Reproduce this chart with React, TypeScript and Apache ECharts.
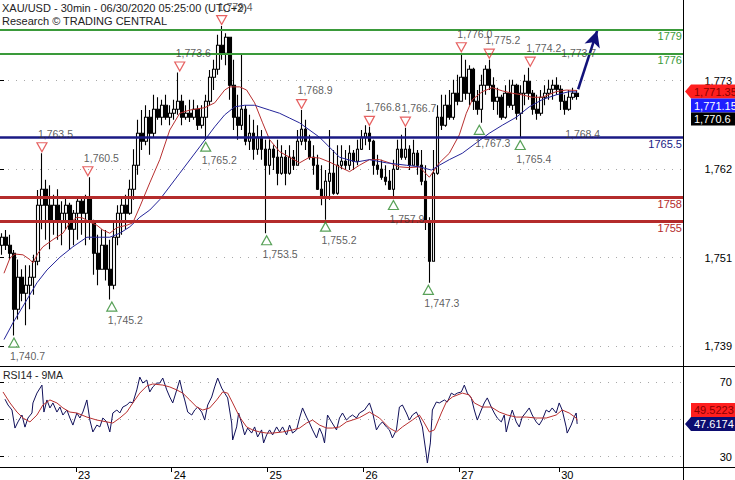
import React, { useEffect, useRef } from "react";
import * as echarts from "echarts";

// ---------------- data (hourly OHLC) ----------------
const opens = [
  1752, 1753, 1752, 1751, 1744, 1748, 1746, 1747, 1748, 1750,
  1757, 1759, 1757, 1755, 1757, 1755, 1756, 1757, 1754, 1756,
  1757.5, 1756, 1758, 1755, 1751, 1749, 1752, 1749, 1747, 1753,
  1756, 1757, 1756, 1759, 1762, 1766, 1765, 1768, 1766, 1769,
  1768, 1769.5, 1768, 1768.5, 1769, 1770, 1768, 1768.5, 1768, 1769,
  1767, 1768, 1770, 1773, 1774, 1777, 1776, 1778, 1772, 1768,
  1767, 1769, 1765, 1766, 1764, 1765.5, 1764, 1762, 1764, 1763,
  1761, 1763, 1761, 1763, 1762, 1765, 1766.5, 1765, 1763, 1762,
  1759, 1758, 1760, 1761, 1758.5, 1762, 1762.5, 1762, 1763.5, 1762.5,
  1764, 1765.5, 1766, 1765, 1762, 1761.5, 1760.5, 1760, 1759, 1761.5,
  1764, 1763, 1764, 1762, 1763.5, 1762, 1760, 1755, 1750, 1761,
  1768, 1767, 1769.5, 1768, 1771, 1770, 1773, 1771, 1774, 1770,
  1769, 1772, 1774, 1772, 1770, 1770.5, 1768, 1771, 1769.5, 1772,
  1768.5, 1771, 1772.5, 1771, 1769, 1768.5, 1770.5, 1771, 1771.5, 1772,
  1771.5, 1770, 1769, 1770.5, 1771,
];
const closes = [
  1753, 1752, 1751, 1744, 1748, 1746, 1747, 1748, 1750, 1757,
  1759, 1757, 1755, 1757, 1755, 1756, 1757, 1754, 1756, 1757.5,
  1756, 1758, 1755, 1751, 1749, 1752, 1749, 1747, 1753, 1756,
  1757, 1756, 1759, 1762, 1766, 1765, 1768, 1766, 1769, 1768,
  1769.5, 1768, 1768.5, 1769, 1770, 1768, 1768.5, 1768, 1769, 1767,
  1768, 1770, 1773, 1774, 1777, 1776, 1778, 1772, 1768, 1767,
  1769, 1765, 1766, 1764, 1765.5, 1764, 1762, 1764, 1763, 1761,
  1763, 1761, 1763, 1762, 1765, 1766.5, 1765, 1763, 1762, 1759,
  1758, 1760, 1761, 1758.5, 1762, 1762.5, 1762, 1763.5, 1762.5, 1764,
  1765.5, 1766, 1765, 1762, 1761.5, 1760.5, 1760, 1759, 1761.5, 1764,
  1763, 1764, 1762, 1763.5, 1762, 1760, 1755, 1750, 1761, 1768,
  1767, 1769.5, 1768, 1771, 1770, 1773, 1771, 1774, 1770, 1769,
  1772, 1774, 1772, 1770, 1770.5, 1768, 1771, 1769.5, 1772, 1768.5,
  1771, 1772.5, 1771, 1769, 1768.5, 1770.5, 1771, 1771.5, 1772, 1771.5,
  1770, 1769, 1770.5, 1771, 1770.6,
];
const lows = [
  1750.8, 1751.4, 1750.2, 1740.7, 1742.7, 1745, 1742, 1744, 1745.8, 1749.5,
  1754, 1752.7, 1751.5, 1753.3, 1752.7, 1752, 1754, 1751.4, 1752, 1752.7,
  1753.3, 1752, 1752.7, 1748.3, 1747, 1749, 1747.6, 1745.2, 1746.5, 1752,
  1753.3, 1754, 1755.8, 1757.7, 1760.8, 1763.9, 1764.5, 1763.3, 1765.5, 1767.7,
  1767, 1767.7, 1767, 1767.7, 1768.3, 1767, 1767.7, 1767.4, 1767.7, 1766.4,
  1766.6, 1765.2, 1769.5, 1771.4, 1773.3, 1775.2, 1774.5, 1770.2, 1766.4, 1765.2,
  1766.4, 1764.5, 1763.9, 1762.7, 1763.3, 1762.7, 1753.5, 1760.8, 1761.4, 1759.5,
  1760.8, 1759.5, 1760.8, 1761.4, 1762, 1764.5, 1763.9, 1762.7, 1760.8, 1758.9,
  1757, 1755.2, 1757.7, 1758.3, 1758.3, 1761.5, 1761.4, 1761.4, 1761.4, 1762,
  1763.9, 1764.5, 1763.9, 1760.8, 1760.8, 1760.2, 1759.5, 1758.9, 1757.9, 1761.4,
  1762.7, 1762.7, 1761.4, 1762, 1760.8, 1759.5, 1753.9, 1747.3, 1750, 1760.8,
  1766.4, 1766.8, 1767.7, 1767.7, 1769.5, 1770, 1770.2, 1769.5, 1768.9, 1768.3,
  1767.3, 1770.8, 1771.4, 1768.9, 1768.3, 1767.7, 1767.8, 1769.2, 1768.9, 1767.7,
  1765.4, 1769.5, 1770.2, 1768.3, 1767.7, 1768.2, 1769.5, 1770.2, 1770.2, 1770.8,
  1768.9, 1768.3, 1768.8, 1770.2, 1770.2,
];
const highs = [
  1753.5, 1753.9, 1753.3, 1751.4, 1750.2, 1749, 1749.5, 1749.5, 1750.8, 1758.9,
  1763.5, 1760.2, 1759.5, 1758.3, 1759, 1757.5, 1758, 1757.3, 1756.4, 1758,
  1757.8, 1758.3, 1760.5, 1755.2, 1753.3, 1754, 1753.9, 1752.7, 1755, 1757,
  1758, 1758.3, 1760.2, 1764, 1767.7, 1768.9, 1769.5, 1768.9, 1770.8, 1770.5,
  1770.2, 1770.8, 1769.5, 1770.2, 1773.6, 1770.8, 1769.5, 1770.2, 1770.2, 1769.5,
  1769.5, 1770.8, 1773.9, 1775.2, 1778.3, 1779.4, 1778.5, 1778, 1775.2, 1770.8,
  1775.8, 1769.5, 1768.3, 1767.7, 1767, 1766.4, 1765.2, 1765.2, 1764.5, 1765.2,
  1764.5, 1763.9, 1764.5, 1763.9, 1766.4, 1768.9, 1767.7, 1765.8, 1764.5, 1763.3,
  1762, 1761.4, 1766.4, 1763.9, 1764.5, 1764.5, 1763.9, 1764.5, 1763.9, 1765.2,
  1766.4, 1767, 1766.8, 1765.2, 1763.3, 1762.7, 1762, 1761.4, 1762.7, 1765.2,
  1765.8, 1766.7, 1764.5, 1765.2, 1763.9, 1763.9, 1762, 1755.5, 1763.9, 1769.5,
  1770.8, 1770.8, 1771.4, 1772.7, 1773.3, 1776, 1775.2, 1774.5, 1774.2, 1771.4,
  1773.3, 1774.5, 1775.2, 1773, 1771.7, 1770.8, 1772, 1772.7, 1772.7, 1772.2,
  1772, 1773.3, 1774.2, 1771.4, 1770.8, 1771.4, 1772, 1772.7, 1772.7, 1773,
  1772, 1770.8, 1771.4, 1771.7, 1771.4,
];

// moving averages: [time in 30-min periods, price]
const redMA: [number, number][] = [
  [1, 1748.5], [4, 1750.4], [6.5, 1750.9], [10.5, 1750.8], [14, 1750.2], [15.5, 1749.8], [18, 1751],
  [20.5, 1751.8], [25.5, 1752.7], [30.5, 1753.5], [34, 1754.8], [37.5, 1755.5], [40.5, 1755.4],
  [44, 1754.9], [47.5, 1754.5], [50.5, 1753.9], [54, 1753.5], [57.5, 1754.2], [62.5, 1754.5],
  [65.5, 1754.8], [69, 1756.8], [74, 1759.8], [79, 1762.7], [84, 1766.4], [89, 1768.5], [94, 1768.9],
  [101.5, 1769.2], [106.5, 1769.8], [111.5, 1771.4], [114, 1771.8], [119, 1771.8], [122.5, 1771.4],
  [126.5, 1769.8], [130.5, 1767.3], [134, 1765.2], [139, 1763.7], [144, 1763], [149, 1762.3],
  [154, 1763], [159, 1762.9], [164, 1762.4], [169, 1761.8], [174, 1761.2], [179, 1762], [184, 1762.7],
  [189, 1762.7], [194, 1762.3], [199, 1761.8], [204, 1761.7], [209, 1761.8], [214, 1760.5],
  [219, 1762.3], [224, 1763.5], [229, 1765.8], [232.5, 1768.5], [235.5, 1770.2], [240.5, 1771.2],
  [245.5, 1771.7], [250.5, 1771.3], [255.5, 1771], [260.5, 1770.8], [265.5, 1770.5], [270.5, 1770.5],
  [277.5, 1771.2], [282.5, 1771.4], [288, 1771.35],
];
const blueMA: [number, number][] = [
  [1, 1740.2], [5.5, 1742.3], [12.5, 1745.2], [17.5, 1747.3], [22.5, 1748.9], [29, 1750.5],
  [35.5, 1751.8], [42.5, 1753], [49, 1753], [54, 1753], [59, 1753.5], [64, 1754.3], [69, 1755.5],
  [74, 1756.4], [79, 1757.7], [89, 1761], [99, 1764.3], [106.5, 1766.8], [111.5, 1768.3],
  [116.5, 1769.3], [121.5, 1769.5], [126.5, 1769.5], [134, 1768.9], [139, 1768.5], [144, 1767.9],
  [149, 1767.3], [159, 1765.5], [169, 1763], [177.5, 1762.4], [184, 1762.7], [192.5, 1762.3],
  [202.5, 1762], [209, 1761.8], [215, 1761.4], [219, 1762], [224, 1762.7], [230.5, 1763.5],
  [237.5, 1764.8], [244, 1766], [250.5, 1767], [257.5, 1768], [264, 1769.3], [270.5, 1770.2],
  [277.5, 1770.8], [284, 1771.2], [288, 1771.15],
];

// RSI(14) and its 9-period MA: [time in 30-min periods, value]
const rsi: [number, number][] = [
  [1.5, 60.9], [3, 57.8], [5, 55.1], [6.5, 45.4], [8, 48.7], [10, 52.4], [11.5, 45.9], [13, 50.8],
  [15, 53.5], [15.5, 58.9], [17.5, 64.2], [20, 68.5], [21, 54], [22.5, 60.5], [24, 56.2], [25.5, 58.9],
  [27.5, 54], [29, 56.7], [30.5, 52.4], [32.5, 55.1], [34, 50.8], [35.5, 47], [37.5, 53.5], [39, 50.8],
  [40.5, 54], [42.5, 60.5], [44, 49.7], [45.5, 43.3], [47.5, 47], [49, 46], [50.5, 50.8], [52.5, 48.7],
  [54, 43.3], [55.5, 53.5], [57.5, 55.1], [59, 53.5], [60.5, 56.7], [62.5, 57.8], [64, 59.4],
  [65.5, 58.9], [67.5, 65.9], [69, 72.8], [70.5, 69.6], [72.5, 71.2], [74, 64.8], [75.5, 67.5],
  [77.5, 69.6], [79, 69.6], [80.5, 72.3], [82.5, 65.9], [84, 62.1], [85.5, 58.9], [87.5, 65.9],
  [89, 71.2], [90.5, 64.2], [91.5, 60.5], [93, 54], [95, 52.4], [96.5, 55.1], [98, 56.7], [100, 54],
  [101.5, 49.7], [103, 57.8], [105, 62.1], [106.5, 67.5], [108, 72.3], [110, 66.9], [111.5, 64.2],
  [113, 61.6], [115, 48.1], [115.5, 39], [117.5, 46], [118.5, 53.5], [120, 48.1], [121.5, 41.7],
  [123, 45.4], [125, 42.7], [126.5, 46], [128, 40.6], [130, 44.4], [131, 37.4], [132.5, 41.7],
  [134, 44.4], [135.5, 41.7], [137.5, 46], [139, 43.3], [140.5, 46], [142.5, 41.7], [144, 47],
  [145.5, 42.7], [147.5, 44.4], [149, 50.8], [150.5, 56.2], [152.5, 51.3], [154, 48.1], [155.5, 44.4],
  [157.5, 40.1], [159, 45.4], [160.5, 41.7], [161.5, 37.4], [163, 52.4], [165, 48.7], [167.5, 44.4],
  [169, 50.8], [170.5, 53.5], [172.5, 49.7], [174, 51.3], [175.5, 52.4], [177.5, 50.8], [179, 53.5],
  [181.5, 55.1], [184, 58.9], [185.5, 54], [187.5, 44.4], [189, 47], [190.5, 48.7], [192.5, 46],
  [194, 44.4], [195.5, 40.1], [197.5, 44.4], [199, 56.7], [200.5, 57.8], [202.5, 53.5], [204, 49.7],
  [205.5, 52.4], [207.5, 54], [209, 50.8], [210.5, 46], [212.5, 30.9], [213, 26.6], [214.5, 37.4],
  [215.5, 55.1], [217.5, 59.4], [219, 58.9], [221.5, 60.5], [223, 59.4], [225, 64.2], [226.5, 63.2],
  [228, 64.2], [230, 64.8], [231.5, 68.5], [233, 64.2], [235, 61.6], [236.5, 55.1], [238, 49.7],
  [240, 55.1], [241.5, 58.9], [243, 61.6], [245, 56.7], [246.5, 53.5], [248, 50.8], [250, 48.7],
  [251.5, 52.4], [252.5, 43.3], [254, 49.7], [255.5, 55.1], [257.5, 48.7], [259, 46], [260.5, 51.3],
  [262.5, 54], [264, 56.2], [265.5, 52.4], [267.5, 48.7], [269, 47], [270.5, 49.7], [272.5, 55.1],
  [274, 54], [275.5, 56.2], [277.5, 53.5], [279, 58.9], [280.5, 55.1], [282.5, 46], [283, 42.7],
  [285, 47], [286.5, 51.3], [287.5, 53.5], [288, 47.6174],
];
const rsiMA: [number, number][] = [
  [0.5, 64.8], [4, 58.9], [7.5, 54], [10.5, 50.8], [14, 48.7], [17.5, 52.4], [20.5, 57.8], [24, 60.5],
  [27.5, 58.9], [30.5, 56.2], [34, 54], [37.5, 53.5], [42.5, 51.3], [47.5, 49.7], [52.5, 48.7],
  [55.5, 48.1], [59, 50.8], [62.5, 54], [65.5, 58.9], [69, 64.2], [72.5, 68], [75.5, 69.1],
  [80.5, 68.5], [84, 67.5], [87.5, 65.9], [90.5, 64.2], [94, 60.5], [97.5, 56.7], [100.5, 55.1],
  [104, 56.2], [107.5, 60.5], [110.5, 64.8], [113, 64.2], [115.5, 58.9], [119, 51.3], [122.5, 46],
  [125.5, 44.4], [129, 43.3], [132.5, 42.7], [135.5, 42.7], [140.5, 43.3], [145.5, 44.4], [149, 45.4],
  [152.5, 48.1], [155.5, 49.7], [159, 47], [162.5, 45.4], [165.5, 45.4], [169, 46], [172.5, 48.7],
  [175.5, 49.7], [179, 51], [184, 54], [189, 50.8], [194, 45.4], [197.5, 43.3], [200.5, 46],
  [205.5, 49.7], [209, 52.4], [211.5, 48.1], [214, 43.3], [216.5, 44.4], [220, 53.5], [222.5, 59.4],
  [225.5, 62.1], [230.5, 64.2], [234, 63.2], [236.5, 58.9], [240.5, 56.7], [245, 56.7], [249, 54],
  [253, 52.4], [257.5, 51.3], [262.5, 51.3], [267.5, 50.8], [272.5, 50.8], [277.5, 52.4],
  [280.5, 55.1], [284, 53.5], [287.5, 50.8], [288, 49.5223],
];

// swing markers
const highMarkT = [20, 43, 89, 110, 150, 184, 202, 230, 244, 264.5];
const highMarkP = [1763.5, 1760.5, 1773.6, 1779.4, 1768.9, 1766.8, 1766.7, 1776.0, 1775.2, 1774.2];
const lowMarkT = [6, 55, 102, 132.5, 162, 196, 213.5, 239, 259.5];
const lowMarkP = [1740.7, 1745.2, 1765.2, 1753.5, 1755.2, 1757.9, 1747.3, 1767.3, 1765.4];
const plainHighLabels: [number, number][] = [[282, 1773.7]];
const plainLowLabels: [number, number][] = [[284, 1768.4]];

// key levels
const resistanceLevels = [1779, 1776];
const pivotLevels = [1765.5];
const supportLevels = [1758, 1755];

// projection arrow
const arrowFrom: [number, number] = [288.5, 1771.5];
const arrowTo: [number, number] = [298, 1778.8];

// axes
const priceTickLabels = ["1,739", "1,751", "1,762", "1,773"];
const rsiTickLabels = ["30", "", "70"];
const dayLabels = ["23", "24", "25", "26", "27", "30"];
const dayIndex = [19, 43, 67, 91, 115, 140];

// ---------------- layout ----------------
const W = 735;
const AXIS_X = 683;
const RIGHT = W - AXIS_X;
const SLOTS = 171;
const T_MIN = -1;
const T_MAX = SLOTS * 2 - 1;
const PRICE_MIN = 1736.9;
const PRICE_MAX = 1782.66;
const RSI_MIN = 24.46;
const RSI_MAX = 78.76;

const FONT = '"Liberation Sans", Arial, sans-serif';
const GREEN = "#3a9a3a";
const NAVY = "#1a1a84";
const DARKRED = "#b42b2b";

const fmt1 = (v: number) =>
  v.toLocaleString("en-US", { minimumFractionDigits: 1, maximumFractionDigits: 1 });
const fmtP = (v: number) => v.toLocaleString("en-US", { maximumFractionDigits: 2 });

export default function App() {
  const ref = useRef<HTMLDivElement>(null);

  useEffect(() => {
    const el = ref.current;
    if (!el) return;
    const chart = echarts.init(el, undefined, { renderer: "svg" });

    const cats = Array.from({ length: SLOTS }, (_, i) => {
      const k = dayIndex.indexOf(i);
      return k >= 0 ? dayLabels[k] : "";
    });
    const candles = opens.map((o, i) => [o, closes[i], lows[i], highs[i]]);

    const level = (v: number, color: string, width: number) => ({
      yAxis: v,
      lineStyle: { color, width, type: "solid" },
      label: {
        show: true,
        position: "insideEndBottom",
        formatter: String(v),
        color,
        fontSize: 11,
        fontFamily: FONT,
        distance: 1,
      },
    });

    const markLabel = {
      show: true,
      fontSize: 10.5,
      fontFamily: FONT,
      color: "#333",
      align: "left",
      offset: [-4, 0],
      distance: 3,
    };

    const dotted = { show: true, lineStyle: { color: "#a8a8a8", type: [1, 7], width: 1 } };

    const option: any = {
      animation: false,
      backgroundColor: "#fff",
      textStyle: { fontFamily: FONT },
      grid: [
        { left: 0, right: RIGHT, top: 0, height: 366 },
        { left: 0, right: RIGHT, top: 366, height: 101 },
        { left: 0, right: RIGHT, top: 80.7, height: 265.3 },
        { left: 0, right: RIGHT, top: 382.3, height: 74.4 },
      ],
      xAxis: [
        { type: "category", gridIndex: 0, data: cats, show: false, boundaryGap: true },
        { type: "value", gridIndex: 0, min: T_MIN, max: T_MAX, show: false },
        {
          type: "category",
          gridIndex: 1,
          data: cats,
          boundaryGap: true,
          axisLine: { show: true, lineStyle: { color: "#000", width: 1 } },
          axisTick: {
            show: true,
            length: 5,
            interval: (i: number) => dayIndex.includes(i),
            lineStyle: { color: "#000" },
          },
          axisLabel: {
            interval: (i: number) => dayIndex.includes(i),
            align: "left",
            margin: 2,
            fontSize: 11,
            color: "#000",
            fontFamily: FONT,
          },
          splitLine: { show: false },
        },
        { type: "value", gridIndex: 1, min: T_MIN, max: T_MAX, show: false },
        { type: "value", gridIndex: 2, show: false },
        { type: "value", gridIndex: 3, show: false },
      ],
      yAxis: [
        { type: "value", gridIndex: 0, min: PRICE_MIN, max: PRICE_MAX, show: false },
        { type: "value", gridIndex: 1, min: RSI_MIN, max: RSI_MAX, show: false },
        {
          type: "value",
          gridIndex: 2,
          position: "right",
          min: 0,
          max: priceTickLabels.length - 1,
          interval: 1,
          axisLine: { show: false },
          axisTick: { show: true, length: 4, lineStyle: { color: "#000" } },
          axisLabel: {
            formatter: (v: number) => priceTickLabels[Math.round(v)] ?? "",
            align: "right",
            margin: 49,
            fontSize: 11,
            color: "#000",
            fontFamily: FONT,
          },
          splitLine: dotted,
        },
        {
          type: "value",
          gridIndex: 3,
          position: "right",
          min: 0,
          max: rsiTickLabels.length - 1,
          interval: 1,
          axisLine: { show: false },
          axisTick: { show: true, length: 4, lineStyle: { color: "#000" } },
          axisLabel: {
            formatter: (v: number) => rsiTickLabels[Math.round(v)] ?? "",
            align: "right",
            margin: 49,
            fontSize: 11,
            color: "#000",
            fontFamily: FONT,
          },
          splitLine: dotted,
        },
      ],
      series: [
        {
          type: "candlestick",
          xAxisIndex: 0,
          yAxisIndex: 0,
          data: candles,
          barWidth: 3.2,
          z: 2,
          itemStyle: {
            color: "#fff",
            color0: "#000",
            borderColor: "#000",
            borderColor0: "#000",
            borderWidth: 1.1,
          },
        },
        {
          type: "line",
          xAxisIndex: 1,
          yAxisIndex: 0,
          data: redMA,
          showSymbol: false,
          z: 3,
          lineStyle: { color: "#b83030", width: 1 },
          markLine: {
            silent: true,
            animation: false,
            symbol: ["none", "arrow"],
            symbolSize: [12, 16],
            label: { show: false },
            lineStyle: { color: "#12127a", width: 2.5, type: "solid" },
            data: [[{ coord: arrowFrom }, { coord: arrowTo }]],
          },
        },
        {
          type: "line",
          xAxisIndex: 1,
          yAxisIndex: 0,
          data: blueMA,
          showSymbol: false,
          z: 4,
          lineStyle: { color: "#25259a", width: 1 },
          markLine: {
            silent: true,
            animation: false,
            symbol: ["none", "none"],
            data: [
              ...resistanceLevels.map((v) => level(v, GREEN, 2)),
              ...pivotLevels.map((v) => level(v, NAVY, 2.5)),
              ...supportLevels.map((v) => level(v, DARKRED, 3)),
            ],
          },
        },
        {
          type: "scatter",
          xAxisIndex: 1,
          yAxisIndex: 0,
          z: 6,
          symbol: "path://M0,0L10,0L5,9Z",
          symbolSize: [10, 9],
          symbolOffset: [0, -6],
          itemStyle: { color: "rgba(255,255,255,0)", borderColor: "#e03a3a", borderWidth: 1.2 },
          label: { ...markLabel, position: "top", formatter: (p: any) => fmt1(p.value[1]) },
          data: highMarkT.map((t, i) => [t, highMarkP[i]]),
        },
        {
          type: "scatter",
          xAxisIndex: 1,
          yAxisIndex: 0,
          z: 6,
          symbol: "path://M5,0L10,9L0,9Z",
          symbolSize: [10, 9],
          symbolOffset: [0, 7],
          itemStyle: { color: "rgba(255,255,255,0)", borderColor: "#2e8a2e", borderWidth: 1.2 },
          label: { ...markLabel, position: "bottom", formatter: (p: any) => fmt1(p.value[1]) },
          data: lowMarkT.map((t, i) => [t, lowMarkP[i]]),
        },
        {
          type: "scatter",
          xAxisIndex: 1,
          yAxisIndex: 0,
          z: 6,
          symbol: "rect",
          symbolSize: [10, 9],
          symbolOffset: [0, -6],
          itemStyle: { color: "rgba(255,255,255,0)" },
          label: { ...markLabel, position: "top", formatter: (p: any) => fmt1(p.value[1]) },
          data: plainHighLabels,
        },
        {
          type: "scatter",
          xAxisIndex: 1,
          yAxisIndex: 0,
          z: 6,
          symbol: "rect",
          symbolSize: [10, 9],
          symbolOffset: [0, 7],
          itemStyle: { color: "rgba(255,255,255,0)" },
          label: { ...markLabel, position: "bottom", formatter: (p: any) => fmt1(p.value[1]) },
          data: plainLowLabels,
        },
        {
          type: "line",
          xAxisIndex: 3,
          yAxisIndex: 1,
          data: rsi,
          showSymbol: false,
          z: 3,
          lineStyle: { color: "#10105a", width: 1 },
        },
        {
          type: "line",
          xAxisIndex: 3,
          yAxisIndex: 1,
          data: rsiMA,
          showSymbol: false,
          z: 4,
          lineStyle: { color: "#b83030", width: 1 },
        },
      ],
    };

    chart.setOption(option);

    // readout boxes on the right axis
    const lastRed = redMA[redMA.length - 1];
    const lastBlue = blueMA[blueMA.length - 1];
    const lastClose = closes[closes.length - 1];
    const lastRsi = rsi[rsi.length - 1];
    const lastRsiMA = rsiMA[rsiMA.length - 1];
    const yR = (chart.convertToPixel({ seriesIndex: 1 }, lastRed) as number[])[1] + 1;
    const yN = (chart.convertToPixel({ seriesIndex: 8 }, lastRsi) as number[])[1];

    const txt = (x: number, y: number, text: string, fill: string, size = 11, va = "middle") => ({
      type: "text",
      x,
      y,
      z: 100,
      style: { text, fill, font: `${size}px ${FONT}`, verticalAlign: va },
    });
    const arrowBox = (yc: number, fill: string, textFill: string, text: string) => [
      {
        type: "polygon",
        z: 99,
        shape: { points: [[685, yc], [691, yc - 7], [735, yc - 7], [735, yc + 7], [691, yc + 7]] },
        style: { fill },
      },
      txt(694, yc + 0.5, text, textFill),
    ];
    const rectBox = (top: number, h: number, fill: string, textFill: string, text: string) => [
      { type: "rect", z: 99, shape: { x: 691, y: top, width: 44, height: h }, style: { fill } },
      txt(694, top + h / 2 + 0.5, text, textFill),
    ];
    const hline = (y: number, x1: number, x2: number) => ({
      type: "line",
      z: 98,
      shape: { x1, y1: y, x2, y2: y },
      style: { stroke: "#000", lineWidth: 1 },
    });

    chart.setOption({
      graphic: [
        hline(366.5, 0, W),
        hline(467.5, 0, W),
        {
          type: "line",
          z: 98,
          shape: { x1: AXIS_X + 0.5, y1: 0, x2: AXIS_X + 0.5, y2: 480 },
          style: { stroke: "#000", lineWidth: 1 },
        },
        txt(2, 7.5, "XAU/USD - 30min - 06/30/2020 05:25:00 (UTC+2)", "#222", 11),
        txt(2, 20.5, "Research \u00a9 TRADING CENTRAL", "#222", 11),
        txt(3, 375, "RSI14 - 9MA", "#222", 10.5),
        ...arrowBox(yR, "#ff1f1f", "#8a0000", fmtP(lastRed[1])),
        ...rectBox(yR + 7, 14, "#1f1fff", "#fff", fmtP(lastBlue[1])),
        ...rectBox(yR + 21, 13, "#000", "#fff", fmtP(lastClose)),
        ...rectBox(yN - 21, 14, "#ff1f1f", "#8a0000", lastRsiMA[1].toFixed(4)),
        ...arrowBox(yN, "#0c0c70", "#fff", lastRsi[1].toFixed(4)),
      ],
    });

    return () => chart.dispose();
  }, []);

  return (
    <div
      ref={ref}
      style={{ position: "absolute", left: 0, top: 0, width: 735, height: 480, background: "#fff" }}
    />
  );
}
